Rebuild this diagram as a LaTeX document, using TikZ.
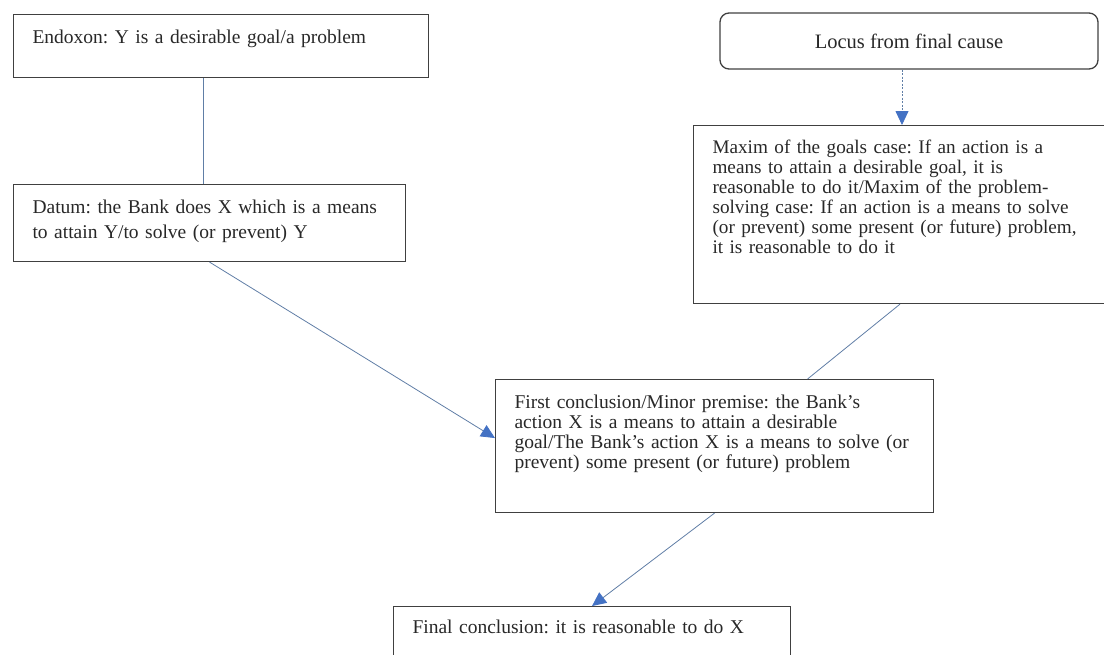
\documentclass[tikz,border=0pt]{standalone}
\usepackage{fontspec}
\setmainfont{Liberation Serif}
\usetikzlibrary{arrows.meta,positioning}
\definecolor{boxline}{RGB}{64,64,64}
\definecolor{inktext}{RGB}{40,40,40}
\definecolor{linkblue}{RGB}{96,126,166}
\definecolor{tipblue}{RGB}{68,114,196}
\newcommand{\padtop}[1]{\rule{0pt}{#1}}
\newcommand{\padbot}[1]{\rule[-#1]{0pt}{#1}}
\tikzset{card/.style={draw=boxline,text=inktext,line width=1.1pt,rectangle,anchor=north west,inner xsep=19pt,inner ysep=0pt,align=left},
         link/.style={draw=linkblue,line width=0.8pt},
         tip/.style={-{Triangle[length=14pt,width=13pt,color=tipblue]}}}
\frenchspacing

\begin{document}
\begin{tikzpicture}[x=1pt,y=-1pt]
    \useasboundingbox (0,0) rectangle (1104,654);
    \node[card,text width=377pt,font=\fontsize{19.5}{21}\selectfont] (endoxon) at (13,14)
        {\padtop{29pt}Endoxon: Y is a desirable goal/a problem\padbot{34pt}};
    \node[card,text width=354pt,font=\fontsize{19.5}{25}\selectfont] (datum) at (13,184)
        {\padtop{29pt}Datum: the Bank does X which is a means\\
         to attain Y/to solve (or prevent) Y\padbot{23pt}};
    \node[draw=boxline,text=inktext,line width=1.3pt,rounded corners=9pt,minimum width=378pt,minimum height=56pt,
          font=\fontsize{20.5}{22}\selectfont] (locus) at (909,41) {Locus from final cause};
    \node[card,text width=375pt,font=\fontsize{19.2}{20}\selectfont] (maxim) at (693,125)
        {\padtop{28pt}Maxim of the goals case: If an action is a\\
         means to attain a desirable goal, it is\\
         reasonable to do it/Maxim of the problem-\\
         solving case: If an action is a means to solve\\
         (or prevent) some present (or future) problem,\\
         it is reasonable to do it\padbot{50pt}};
    \node[card,text width=400pt,font=\fontsize{19.5}{20}\selectfont] (first) at (495,379)
        {\padtop{29pt}First conclusion/Minor premise: the Bank’s\\
         action X is a means to attain a desirable\\
         goal/The Bank’s action X is a means to solve (or\\
         prevent) some present (or future) problem\padbot{44pt}};
    \node[card,text width=359pt,font=\fontsize{19.5}{20}\selectfont] (final) at (393,606)
        {\padtop{27pt}Final conclusion: it is reasonable to do X\padbot{30pt}};

    \draw[link] ([xshift=-17.5pt]endoxon.south) -- ([xshift=-17.5pt]endoxon.south |- datum.north);
    \draw[link,tip,dash pattern={on 2pt off 1.5pt}] ([xshift=-7pt]locus.south) -- ([xshift=-7pt]locus.south |- maxim.north);
    \draw[link,tip] (datum.south) -- ([yshift=8pt]first.west);
    \draw[link] (maxim.south) -- ([xshift=93pt]first.north);
    \draw[link,tip] (first.south) -- (final.north);
\end{tikzpicture}
\end{document}
